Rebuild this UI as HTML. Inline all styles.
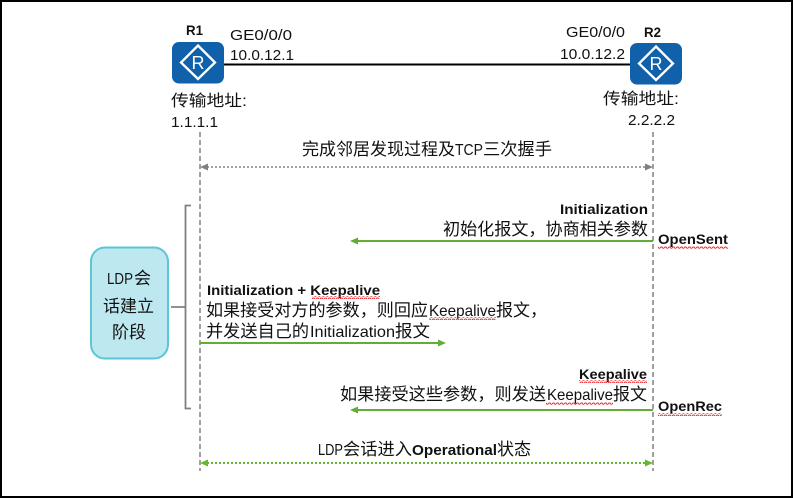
<!DOCTYPE html>
<html><head><meta charset="utf-8"><style>
html,body{margin:0;padding:0;background:#fff}
svg{display:block}
text{font-family:"Liberation Sans","Noto Sans CJK SC",sans-serif;fill:#111;font-size:16px}
.b{font-weight:bold}
</style></head><body>
<svg width="793" height="498" viewBox="0 0 793 498" xmlns="http://www.w3.org/2000/svg">
<defs>
<pattern id="sq" width="4" height="3" patternUnits="userSpaceOnUse"><path d="M0 2.200 L1 1 L2 1 L3 2.200 L4 2.200" fill="none" stroke="#e8323c" stroke-width="1"/></pattern>
<g id="router">
<rect x="0" y="0" width="52" height="41.500" rx="7" fill="#1161aa"/>
<path d="M26 3.500 L43 20.500 L26 37 L9 20.500 Z" fill="none" stroke="#fff" stroke-width="2.300"/>
<text x="26" y="27" text-anchor="middle" style="font-size:18px;fill:#fff">R</text>
</g>
</defs>
<rect x="1" y="1" width="791" height="496" fill="#fff" stroke="#000" stroke-width="2"/>

<line x1="224" y1="64.500" x2="630" y2="64.500" stroke="#000" stroke-width="2"/>
<use href="#router" x="172" y="42"/>
<use href="#router" x="630" y="43"/>

<line x1="200" y1="132" x2="200" y2="471" stroke="#808080" stroke-width="1.500" stroke-dasharray="5 3"/>
<line x1="653" y1="132" x2="653" y2="471" stroke="#808080" stroke-width="1.500" stroke-dasharray="5 3"/>

<text class="b" x="186" y="35" textLength="17" lengthAdjust="spacingAndGlyphs" style="font-size:14px">R1</text>
<text x="230" y="40" textLength="62" lengthAdjust="spacingAndGlyphs" style="font-size:15px">GE0/0/0</text>
<text x="230" y="60" textLength="64" lengthAdjust="spacingAndGlyphs" style="font-size:15px">10.0.12.1</text>
<text x="171" y="106" textLength="76" lengthAdjust="spacingAndGlyphs" style="font-size:16px">传输地址:</text>
<text x="171" y="127" textLength="47" lengthAdjust="spacingAndGlyphs" style="font-size:15px">1.1.1.1</text>

<text class="b" x="644" y="37" textLength="17" lengthAdjust="spacingAndGlyphs" style="font-size:14px">R2</text>
<text x="566" y="37" textLength="59" lengthAdjust="spacingAndGlyphs" style="font-size:15px">GE0/0/0</text>
<text x="560" y="59" textLength="65" lengthAdjust="spacingAndGlyphs" style="font-size:15px">10.0.12.2</text>
<text x="603" y="104" textLength="76" lengthAdjust="spacingAndGlyphs" style="font-size:16px">传输地址:</text>
<text x="628" y="125" textLength="47" lengthAdjust="spacingAndGlyphs" style="font-size:15px">2.2.2.2</text>

<text x="302" y="155" textLength="153" lengthAdjust="spacingAndGlyphs" style="font-size:17px">完成邻居发现过程及</text>
<text x="455" y="155" textLength="28" lengthAdjust="spacingAndGlyphs" style="font-size:16px">TCP</text>
<text x="483" y="155" textLength="69" lengthAdjust="spacingAndGlyphs" style="font-size:17px">三次握手</text>
<line x1="207" y1="167" x2="646" y2="167" stroke="#808080" stroke-width="1.500" stroke-dasharray="2 2"/>
<path d="M200 167 L208 163.500 V170.500 Z M653 167 L645 163.500 V170.500 Z" fill="#808080"/>

<text class="b" x="560" y="214" textLength="88" lengthAdjust="spacingAndGlyphs" style="font-size:14px">Initialization</text>
<text x="443" y="235" textLength="205" lengthAdjust="spacingAndGlyphs" style="font-size:17px">初始化报文，协商相关参数</text>
<line x1="356" y1="241" x2="653" y2="241" stroke="#62ad36" stroke-width="2"/>
<path d="M350 241 L358 237.500 V244.500 Z" fill="#62ad36"/>
<text class="b" x="658" y="244" textLength="70" lengthAdjust="spacingAndGlyphs" style="font-size:14px">OpenSent</text>
<rect x="658" y="246" width="70" height="3" fill="url(#sq)"/>

<rect x="91" y="247.500" width="77" height="111" rx="14" fill="#bde8ef" stroke="#5cc5d6" stroke-width="2"/>
<text x="107" y="284" textLength="26" lengthAdjust="spacingAndGlyphs" style="font-size:16px">LDP</text>
<text x="134" y="284" textLength="17" lengthAdjust="spacingAndGlyphs" style="font-size:17px">会</text>
<text x="103" y="312" textLength="51" lengthAdjust="spacingAndGlyphs" style="font-size:17px">话建立</text>
<text x="112" y="338" textLength="34" lengthAdjust="spacingAndGlyphs" style="font-size:17px">阶段</text>

<path d="M191 205.500 H185.500 V408.500 H191 M171 307 H185.500" fill="none" stroke="#808080" stroke-width="1.800"/>

<text class="b" x="207" y="295" textLength="173" lengthAdjust="spacingAndGlyphs" style="font-size:14px">Initialization + Keepalive</text>
<rect x="312" y="296" width="68" height="3" fill="url(#sq)"/>
<text x="206" y="316" textLength="222" lengthAdjust="spacingAndGlyphs" style="font-size:17px">如果接受对方的参数，则回应</text>
<text x="429" y="316" textLength="67" lengthAdjust="spacingAndGlyphs" style="font-size:16px">Keepalive</text>
<text x="496" y="316" textLength="51" lengthAdjust="spacingAndGlyphs" style="font-size:17px">报文，</text>
<rect x="429" y="317" width="67" height="3" fill="url(#sq)"/>
<text x="206" y="337" textLength="103" lengthAdjust="spacingAndGlyphs" style="font-size:17px">并发送自己的</text>
<text x="310" y="337" textLength="85" lengthAdjust="spacingAndGlyphs" style="font-size:16px">Initialization</text>
<text x="395" y="337" textLength="35" lengthAdjust="spacingAndGlyphs" style="font-size:17px">报文</text>
<line x1="200" y1="343" x2="440" y2="343" stroke="#62ad36" stroke-width="2"/>
<path d="M446 343 L438 339.500 V346.500 Z" fill="#62ad36"/>

<text class="b" x="579" y="379" textLength="68" lengthAdjust="spacingAndGlyphs" style="font-size:14px">Keepalive</text>
<rect x="579" y="380" width="68" height="3" fill="url(#sq)"/>
<text x="340" y="400" textLength="206" lengthAdjust="spacingAndGlyphs" style="font-size:17px">如果接受这些参数，则发送</text>
<text x="547" y="400" textLength="66" lengthAdjust="spacingAndGlyphs" style="font-size:16px">Keepalive</text>
<text x="613" y="400" textLength="34" lengthAdjust="spacingAndGlyphs" style="font-size:17px">报文</text>
<rect x="546" y="402" width="67" height="3" fill="url(#sq)"/>
<line x1="356" y1="410" x2="653" y2="410" stroke="#62ad36" stroke-width="2"/>
<path d="M350 410 L358 406.500 V413.500 Z" fill="#62ad36"/>
<text class="b" x="658" y="411" textLength="64" lengthAdjust="spacingAndGlyphs" style="font-size:14px">OpenRec</text>
<rect x="658" y="413" width="64" height="3" fill="url(#sq)"/>

<text x="318" y="455" textLength="25" lengthAdjust="spacingAndGlyphs" style="font-size:16px">LDP</text>
<text x="343" y="455" textLength="69" lengthAdjust="spacingAndGlyphs" style="font-size:17px">会话进入</text>
<text class="b" x="412" y="455" textLength="85" lengthAdjust="spacingAndGlyphs" style="font-size:15px">Operational</text>
<text x="497" y="455" textLength="34" lengthAdjust="spacingAndGlyphs" style="font-size:17px">状态</text>
<line x1="207" y1="463" x2="646" y2="463" stroke="#62b82f" stroke-width="2" stroke-dasharray="2 2"/>
<path d="M200 463 L208 459.500 V466.500 Z M653 463 L645 459.500 V466.500 Z" fill="#62b82f"/>
</svg>
</body></html>
